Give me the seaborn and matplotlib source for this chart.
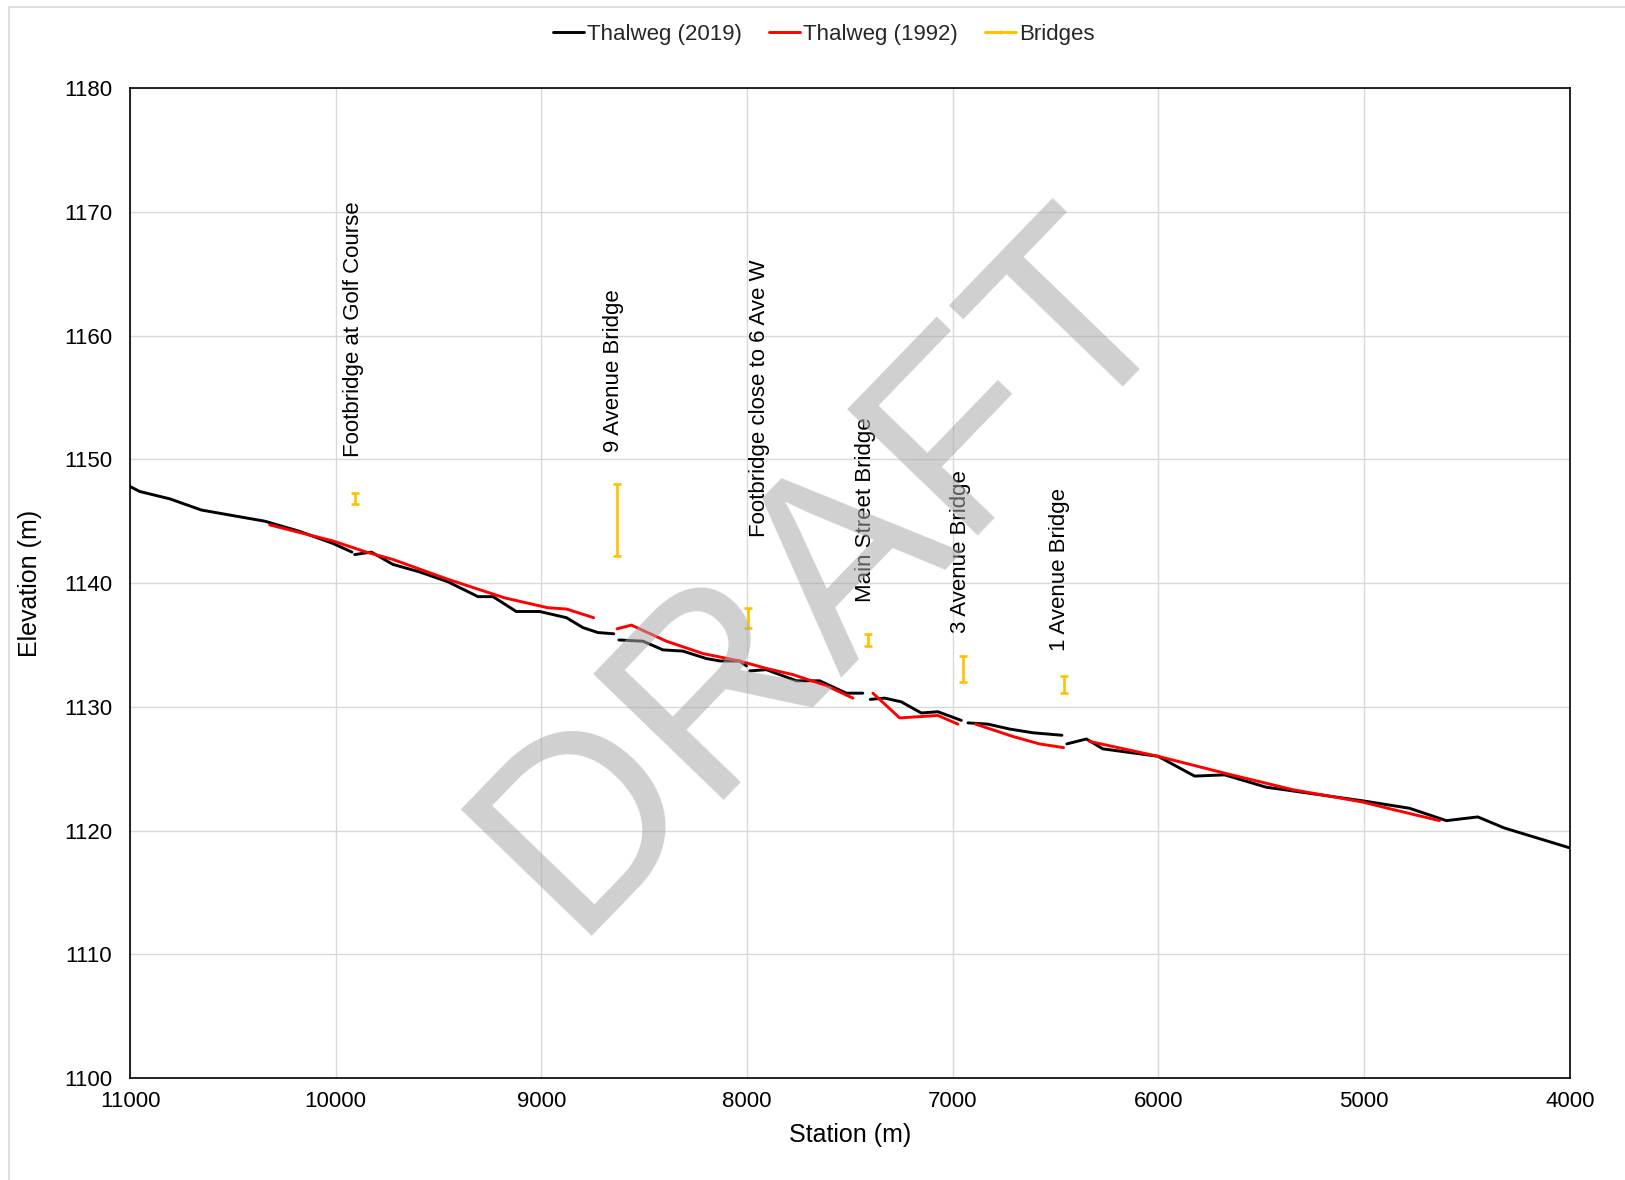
import numpy as np
import pandas as pd
import matplotlib
matplotlib.use("Agg")
import matplotlib.pyplot as plt
from matplotlib.lines import Line2D
from matplotlib.patches import Rectangle
import seaborn as sns

# Thalweg survey 2019 (NaN marks a break in the profile)
station_2019 = [11000, 10953, 10806, 10653, 10483, 10345, 10180, 10013, 9921, np.nan,
                9908, 9826, 9721, 9592, 9454, 9308, 9235, 9122, 9008, 8878, 8798, 8725, 8648, np.nan,
                8623, 8506, 8409, 8312, 8198, 8130, 8036, 8003, np.nan,
                7987, 7906, 7760, 7647, 7517, 7437, np.nan,
                7401, 7331, 7250, 7153, 7072, 6958, np.nan,
                6926, 6829, 6723, 6610, 6469, np.nan,
                6445, 6350, 6270, 6002, 5824, 5678, 5475, 5346, 5006, 4779, 4600, 4447, 4317, 4000]
elev_2019 = [1147.8, 1147.4, 1146.8, 1145.9, 1145.4, 1145.0, 1144.2, 1143.2, 1142.5, np.nan,
             1142.3, 1142.5, 1141.5, 1140.9, 1140.1, 1138.9, 1138.9, 1137.7, 1137.7, 1137.2, 1136.4, 1136.0, 1135.9, np.nan,
             1135.4, 1135.3, 1134.6, 1134.5, 1133.9, 1133.7, 1133.7, 1133.3, np.nan,
             1132.9, 1133.0, 1132.1, 1132.1, 1131.1, 1131.1, np.nan,
             1130.6, 1130.7, 1130.4, 1129.5, 1129.6, 1128.9, np.nan,
             1128.7, 1128.6, 1128.2, 1127.9, 1127.7, np.nan,
             1127.0, 1127.4, 1126.6, 1126.0, 1124.4, 1124.5, 1123.5, 1123.2, 1122.4, 1121.8, 1120.8, 1121.1, 1120.2, 1118.6]

# Thalweg survey 1992
station_1992 = [10321, 10013, 9851, 9721, 9454, 9178, 8968, 8878, 8746, np.nan,
                8632, 8562, 8392, 8214, 8036, 7906, 7777, 7614, 7485, np.nan,
                7388, 7258, 7072, 6975, np.nan,
                6889, 6707, 6578, 6461, np.nan,
                6335, 6002, 5670, 5346, 5006, 4860, 4633]
elev_1992 = [1144.7, 1143.4, 1142.5, 1141.9, 1140.3, 1138.8, 1138.0, 1137.9, 1137.2, np.nan,
             1136.3, 1136.6, 1135.3, 1134.3, 1133.7, 1133.1, 1132.6, 1131.7, 1130.7, np.nan,
             1131.1, 1129.1, 1129.3, 1128.6, np.nan,
             1128.6, 1127.6, 1127.0, 1126.7, np.nan,
             1127.2, 1126.0, 1124.6, 1123.3, 1122.3, 1121.7, 1120.8]

# Bridges: deck low / high elevations
bridge_names = ["Footbridge at Golf Course", "9 Avenue Bridge", "Footbridge close to 6 Ave W",
                "Main Street Bridge", "3 Avenue Bridge", "1 Avenue Bridge"]
bridge_station = [9905, 8634, 7995, 7411, 6948, 6460]
bridge_low = [1146.4, 1142.2, 1136.4, 1134.9, 1132.0, 1131.1]
bridge_high = [1147.3, 1148.0, 1138.0, 1135.9, 1134.1, 1132.5]

x_ticks = [11000, 10000, 9000, 8000, 7000, 6000, 5000, 4000]
y_ticks = [1100, 1110, 1120, 1130, 1140, 1150, 1160, 1170, 1180]

# label anchor (station, elevation of text start)
label_station = [9912, 8648, 7938, 7424, 6961, 6483]
label_elev = [1150.2, 1150.6, 1143.7, 1138.5, 1136.0, 1134.5]


def to_frame(station, elev):
    df = pd.DataFrame({"station": station, "elev": elev})
    df["seg"] = df["station"].isna().cumsum()
    return df.dropna()


sns.set_theme(style="white")
plt.rcParams["font.family"] = ["Liberation Sans", "DejaVu Sans"]

fig = plt.figure(figsize=(16.25, 11.8), dpi=100)
ax = fig.add_axes([0.08, 0.0864, 0.886, 0.839])

gold = "#FFC000"
df19 = to_frame(station_2019, elev_2019)
df92 = to_frame(station_1992, elev_1992)
sns.lineplot(data=df19, x="station", y="elev", units="seg", estimator=None, sort=False,
             color="black", lw=2.1, ax=ax, zorder=3)
sns.lineplot(data=df92, x="station", y="elev", units="seg", estimator=None, sort=False,
             color="#FF0000", lw=2.1, ax=ax, zorder=4)

bs = np.array(bridge_station, dtype=float)
lo = np.array(bridge_low)
hi = np.array(bridge_high)
mid = (lo + hi) / 2
ax.errorbar(bs, mid, yerr=(hi - lo) / 2, fmt="none", ecolor=gold, elinewidth=1.9,
            capsize=3.2, capthick=1.9, zorder=5)

for name, s, e in zip(bridge_names, label_station, label_elev):
    ax.text(s, e, name, rotation=90, ha="center", va="bottom", fontsize=16, color="black", zorder=6)

ax.set_xlim(11000, 4000)
ax.set_ylim(1100, 1180)
ax.set_xticks(x_ticks)
ax.set_yticks(y_ticks)
ax.set_xticklabels([str(v) for v in x_ticks])
ax.set_yticklabels([str(v) for v in y_ticks])
ax.tick_params(axis="both", length=0, labelsize=16, colors="black")
ax.tick_params(axis="y", pad=13)
ax.tick_params(axis="x", pad=9)
ax.grid(True, color="#d9d9d9", lw=1.0, zorder=0)
ax.set_axisbelow(True)
for sp in ax.spines.values():
    sp.set_color("black")
    sp.set_linewidth(1.2)
    sp.set_visible(True)
ax.set_xlabel("Station (m)", fontsize=18, labelpad=8, color="black")
ax.set_ylabel("Elevation (m)", fontsize=18, labelpad=16, color="black")

# watermark
ax.text(0.484, 0.511, "DRAFT", transform=ax.transAxes, fontsize=190, color="#a9a9a9",
        alpha=0.55, rotation=46, ha="center", va="center", zorder=10)

handles = [Line2D([0], [0], color="black", lw=2.1),
           Line2D([0], [0], color="#FF0000", lw=2.1),
           Line2D([0], [0], color=gold, lw=2.1, marker="|", markersize=3, markevery=[0])]
fig.legend(handles, ["Thalweg (2019)", "Thalweg (1992)", "Bridges"], loc="center",
           bbox_to_anchor=(0.507, 0.971), ncol=3, frameon=False, fontsize=16,
           handlelength=1.4, handletextpad=0.15, columnspacing=1.2)

# chart area border
fig.patches.append(Rectangle((9 / 1625, -0.01), 1.05, 1 - 7 / 1180 + 0.01,
                             transform=fig.transFigure, fill=False, edgecolor="#d9d9d9", lw=1.2))

fig.savefig("out.png", dpi=100)
